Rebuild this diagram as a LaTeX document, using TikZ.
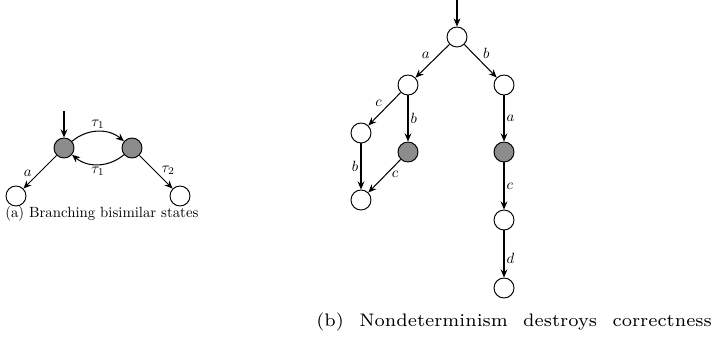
\documentclass[tikz,border=0pt]{standalone}
\usepackage{amsmath, amssymb}
\usepackage{tikz}
\usetikzlibrary{arrows.meta, positioning}

\begin{document}
\begin{tikzpicture}[x=0.675pt, y=-0.675pt,
            st/.style={circle, draw, line width=0.65pt, minimum size=13.5pt, inner sep=0pt},
            stg/.style={st, fill=black!45},
            tr/.style={-{Stealth[length=5.5pt, width=4.6pt]}, line width=0.7pt},
            lbl/.style={font=\normalsize, inner sep=1.5pt}]
            \useasboundingbox (0,0) rectangle (714,339);

            % (a)
            \node[stg] (s0) at (64,148) {};
            \node[stg] (s1) at (132,148) {};
            \node[st] (s2) at (16,196) {};
            \node[st] (s3) at (180,196) {};
            \coordinate (in0) at (64,111);

            \draw[tr] (in0) -- (s0);
            \draw[tr] (s0) to[bend left=40] node[lbl, above] {$\tau_1$} (s1);
            \draw[tr] (s1) to[bend left=40] node[lbl, below] {$\tau_1$} (s0);
            \draw[tr] (s0) -- node[lbl, pos=0.7, above left=-1pt] {$a$} (s2);
            \draw[tr] (s1) -- node[lbl, pos=0.62, above right=-1pt] {$\tau_2$} (s3);

            \node[anchor=west, inner sep=0pt] (capa) at (5,214) {(a) Branching bisimilar states};

            % (b)
            \node[st] (r) at (457,37) {};
            \node[st] (l) at (408,85) {};
            \node[st] (rr) at (504,85) {};
            \node[st] (ll) at (361,133) {};
            \node[stg] (lg) at (408,152) {};
            \node[stg] (rg) at (504,152) {};
            \node[st] (lb) at (361,200) {};
            \node[st] (r3) at (504,220) {};
            \node[st] (r4) at (504,288) {};
            \coordinate (in1) at (457,0);

            \draw[tr] (in1) -- (r);
            \draw[tr] (r) -- node[lbl, above left] {$a$} (l);
            \draw[tr] (r) -- node[lbl, above right] {$b$} (rr);
            \draw[tr] (l) -- node[lbl, above left] {$c$} (ll);
            \draw[tr] (l) -- node[lbl, right] {$b$} (lg);
            \draw[tr] (rr) -- node[lbl, right] {$a$} (rg);
            \draw[tr] (ll) -- node[lbl, left] {$b$} (lb);
            \draw[tr] (lg) -- node[lbl, pos=0.45, right=2pt] {$c$} (lb);
            \draw[tr] (rg) -- node[lbl, right] {$c$} (r3);
            \draw[tr] (r3) -- node[lbl, pos=0.6, right] {$d$} (r4);

            \node[anchor=west, inner sep=0pt] (capb) at (316,322) {\scalebox{1.75}{\fontsize{7}{9}\selectfont\makebox[152.6pt][s]{(b) Nondeterminism destroys correctness}}};
        \end{tikzpicture}
\end{document}
